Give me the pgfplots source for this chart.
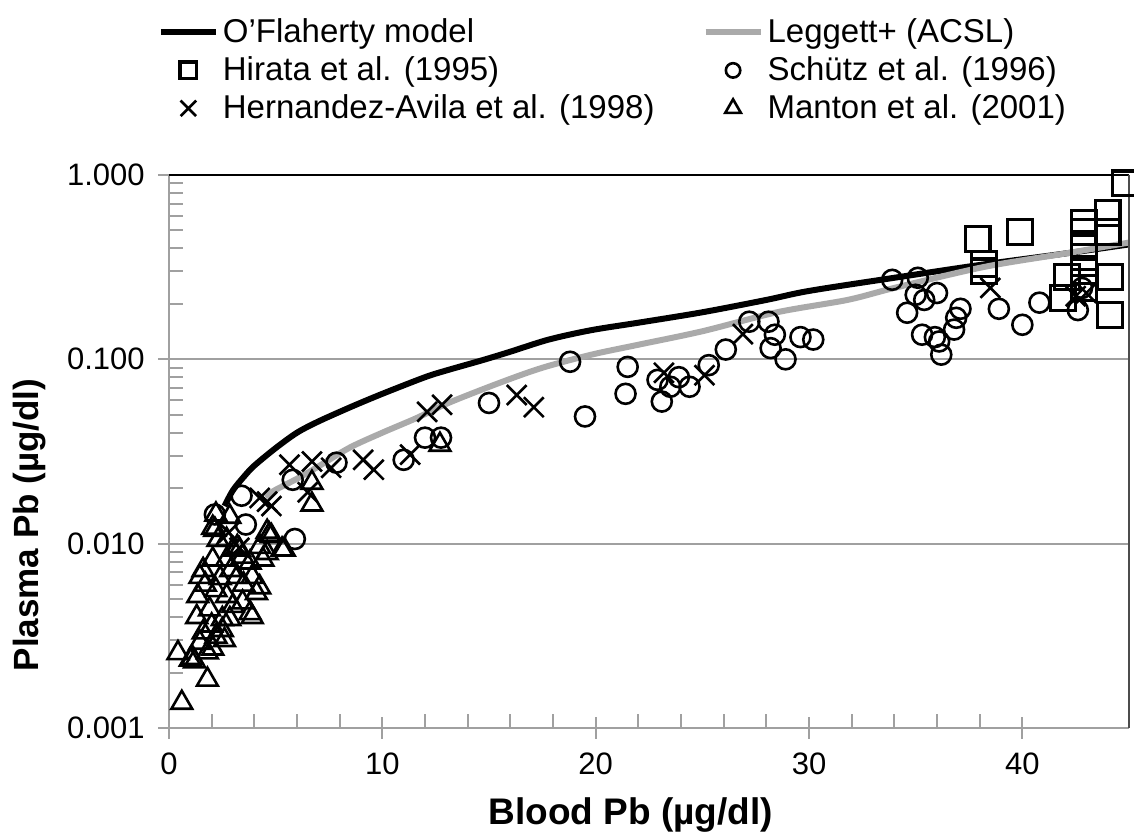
\documentclass[border=0pt]{standalone}
\usepackage{fontspec}
\setmainfont{Liberation Sans}
\usepackage{pgfplots}
\pgfplotsset{compat=1.18}

\definecolor{gridgray}{RGB}{160,160,160}
\definecolor{leggettgray}{RGB}{170,170,170}

\pgfplotsset{
  lineleg/.style={legend image code/.code={\draw[##1] (0pt,0pt) -- (27.5pt,0pt);}},
  markleg/.style={legend image code/.code={\draw[##1,mark size=#1] plot coordinates {(13.75pt,0pt)};}},
}
\tikzset{xlab/.style={anchor=north, inner sep=0pt, yshift=-12pt, font=\fontsize{15.5}{18}\selectfont}}

\begin{document}
\begin{tikzpicture}
\begin{axis}[name=ax,
  scale only axis, width=480pt, height=276.5pt,
  ymode=log, xmin=0, xmax=45, ymin=0.001, ymax=1,
  xtick={0,10,20,30,40}, minor x tick num=4,
  xticklabels={},
  ytick={0.001,0.01,0.1,1}, yticklabels={0.001,0.010,0.100,1.000},
  axis x line*=bottom, axis y line*=left,
  axis line style={gridgray, line width=1pt},
  ymajorgrids, major grid style={gridgray, line width=1pt},
  tick style={gridgray, line width=1pt},
  tick align=center, major tick length=11pt, minor tick length=7pt,
  minor x tick style={yshift=3.5pt}, minor y tick style={xshift=3.5pt},
  tick label style={black, font=\fontsize{15.5}{18}\selectfont},
  yticklabel style={inner xsep=6.5pt},
  xlabel={\textbf{Blood Pb (µg/dl)}},
  ylabel={\textbf{Plasma Pb (µg/dl)}},
  xlabel style={font=\fontsize{18.5}{21}\selectfont, at={(axis description cs:0.481,-0.157)}, anchor=center},
  ylabel style={font=\fontsize{17.5}{20}\selectfont, at={(axis description cs:-0.145,0.367)}, anchor=center},
  clip=false,
  legend columns=2, legend cell align=left,
  legend style={draw=none, fill=none, inner sep=0pt, row sep=1.5pt,
    font=\fontsize{16.5}{20}\selectfont,
    at={(axis description cs:-0.012,1.29)}, anchor=north west,
    /tikz/every even column/.append style={column sep=22pt}},
]
% O'Flaherty model
\addplot[black, line width=3pt, no marks, smooth, lineleg] table {
x y
2.6 0.0160
3.0 0.0195
3.5 0.0230
4.0 0.0265
5.0 0.0330
6.0 0.0400
7.0 0.0460
8.5 0.0550
10 0.0650
12 0.0800
13 0.0870
14.7 0.0990
16 0.1100
17.8 0.1280
19.8 0.1440
22 0.1580
25 0.1800
28 0.2100
30 0.2350
34 0.2770
38 0.3250
42 0.3750
45 0.4200
};
\addlegendentry{O'Flaherty model}
% Leggett+ (ACSL)
\addplot[leggettgray, line width=3pt, no marks, smooth, lineleg] table {
x y
4.5 0.0180
5.0 0.0196
6.0 0.0225
6.9 0.0258
8.45 0.0331
10 0.0400
11.6 0.0480
13.1 0.0580
15.5 0.0746
17.5 0.0900
19.8 0.1060
22 0.1200
25 0.1420
28.5 0.1800
31.8 0.2100
34 0.2440
38.2 0.3170
42 0.3750
45 0.4300
};
\addlegendentry{Leggett+ (ACSL)}
% Hirata et al. (1995)
\addplot[only marks, mark=square, mark size=6.2pt, line width=1.6pt, black, markleg=4.2pt] table {
x y
37.9 0.45
38.2 0.33
38.2 0.30
39.9 0.49
41.9 0.215
42.1 0.28
42.9 0.55
42.9 0.49
42.9 0.42
42.9 0.36
42.9 0.30
42.9 0.244
44.0 0.62
44.0 0.49
44.1 0.28
44.1 0.174
44.8 0.90
};
\addlegendentry{Hirata et al. (1995)}
% Schuetz et al. (1996)
\addplot[only marks, mark=o, mark size=5pt, line width=1.3pt, black, markleg=3.6pt] table {
x y
2.15 0.0144
3.4 0.0182
3.6 0.0127
5.8 0.0222
5.9 0.0106
7.85 0.0275
11.0 0.0285
12.0 0.0376
12.75 0.0376
15.0 0.058
18.8 0.097
19.5 0.049
21.4 0.065
21.5 0.091
22.9 0.0774
23.1 0.059
23.5 0.071
23.9 0.080
24.4 0.071
25.3 0.093
26.1 0.113
27.2 0.160
28.1 0.160
28.4 0.136
28.2 0.115
28.9 0.100
29.6 0.132
30.2 0.128
33.9 0.270
35.1 0.277
35.0 0.224
35.4 0.210
36.0 0.229
34.6 0.179
35.3 0.136
35.9 0.132
36.1 0.125
36.2 0.106
36.8 0.145
36.9 0.168
37.1 0.188
38.9 0.188
40.0 0.154
40.8 0.203
42.6 0.185
42.8 0.244
};
\addlegendentry{Schütz et al. (1996)}
% Hernandez-Avila et al. (1998)
\addplot[only marks, mark=x, mark size=7pt, line width=1.3pt, black, markleg=5.5pt] table {
x y
2.8 0.0115
3.3 0.0095
4.25 0.0177
4.6 0.0169
4.8 0.0160
5.65 0.0268
6.5 0.0190
6.7 0.0279
7.6 0.0258
9.1 0.0285
9.6 0.0252
11.3 0.0304
12.1 0.0519
12.8 0.0567
16.3 0.064
17.1 0.055
23.2 0.0845
25.1 0.082
26.9 0.137
38.5 0.244
42.5 0.220
43.0 0.229
};
\addlegendentry{Hernandez-Avila et al. (1998)}
% Manton et al. (2001)
\addplot[only marks, mark=triangle, mark size=6pt, line width=1.3pt, black, markleg=4.5pt] table {
x y
0.42 0.00255
0.6 0.00137
1.0 0.00235
1.2 0.0023
1.1 0.0024
1.45 0.0029
1.8 0.00183
1.8 0.00257
2.05 0.0027
1.6 0.0033
2.2 0.00313
2.5 0.0034
2.6 0.0030
2.0 0.0036
1.3 0.0040
1.9 0.0044
1.35 0.0052
1.7 0.0060
1.45 0.0066
2.2 0.0056
2.4 0.0065
2.7 0.0052
3.0 0.0046
2.85 0.0039
2.5 0.0039
3.8 0.0042
3.9 0.0040
3.45 0.0048
3.5 0.0060
4.25 0.0058
4.1 0.0054
3.9 0.0066
3.2 0.0066
2.9 0.0072
2.05 0.0082
1.6 0.0072
2.7 0.0082
3.0 0.0093
3.45 0.0085
3.8 0.0079
4.4 0.0082
4.25 0.0096
4.7 0.0112
5.3 0.0093
4.6 0.0089
2.3 0.0105
2.05 0.0122
2.15 0.0119
2.7 0.0105
3.2 0.0096
3.3 0.0093
2.2 0.0144
2.85 0.0140
4.6 0.0116
4.8 0.0110
5.4 0.0093
6.7 0.0214
6.7 0.0163
12.7 0.0344
};
\addlegendentry{Manton et al. (2001)}
\draw[black, line width=1pt] (rel axis cs:0,1) -- (rel axis cs:1,1);
\draw[black!70, line width=1.2pt] (rel axis cs:1,1) -- (rel axis cs:1,0);
% x tick labels
\node[xlab] at (axis cs:0,0.001) {0};
\node[xlab] at (axis cs:10,0.001) {10};
\node[xlab] at (axis cs:20,0.001) {20};
\node[xlab] at (axis cs:30,0.001) {30};
\node[xlab] at (axis cs:40,0.001) {40};
\end{axis}
\pgfresetboundingbox
\path ([xshift=-84.5pt,yshift=-54pt]ax.south west) rectangle ([xshift=2.5pt,yshift=87.5pt]ax.north east);
\end{tikzpicture}
\end{document}
